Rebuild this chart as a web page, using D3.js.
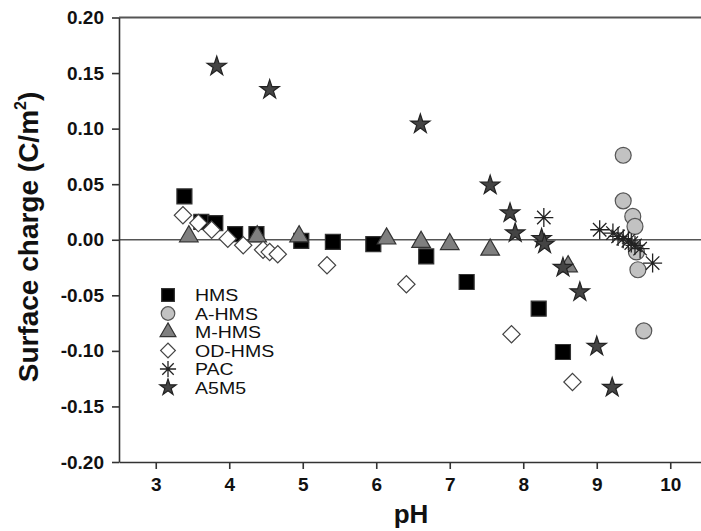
<!DOCTYPE html>
<html>
<head>
<meta charset="utf-8">
<script src="https://cdn.jsdelivr.net/npm/d3@7"></script>
<style>
  body { margin: 0; background: #fff; }
  svg { display: block; font-family: "Liberation Sans", Arial, sans-serif; }
</style>
</head>
<body>
<script>
// data
const seriesNames = ['HMS', 'A-HMS', 'M-HMS', 'OD-HMS', 'PAC', 'A5M5'];
const xTicks = [3, 4, 5, 6, 7, 8, 9, 10];
const yTicks = [-0.20, -0.15, -0.10, -0.05, 0.00, 0.05, 0.10, 0.15, 0.20];

const hmsPH     = [3.39, 3.62, 3.81, 4.08, 4.37, 4.98, 5.41, 5.96, 6.68, 7.23, 8.21, 8.54];
const hmsCharge = [0.039, 0.016, 0.015, 0.005, 0.005, -0.001, -0.002, -0.004, -0.015, -0.038, -0.062, -0.101];

const ahmsPH     = [9.36, 9.36, 9.49, 9.52, 9.54, 9.56, 9.64];
const ahmsCharge = [0.076, 0.035, 0.021, 0.012, -0.011, -0.027, -0.082];

const mhmsPH     = [3.45, 4.38, 4.95, 6.14, 6.61, 7.00, 7.55, 8.61];
const mhmsCharge = [0.003, 0.003, 0.003, 0.001, -0.002, -0.004, -0.009, -0.024];

const odPH     = [3.37, 3.58, 3.76, 3.98, 4.19, 4.46, 4.55, 4.66, 5.33, 6.41, 7.84, 8.67];
const odCharge = [0.022, 0.015, 0.009, 0.001, -0.005, -0.009, -0.011, -0.013, -0.023, -0.040, -0.085, -0.128];

const pacPH     = [8.28, 9.04, 9.22, 9.29, 9.36, 9.43, 9.47, 9.52, 9.59, 9.76];
const pacCharge = [0.020, 0.009, 0.006, 0.003, 0.001, -0.001, -0.003, -0.005, -0.008, -0.021];

const a5m5PH     = [3.83, 4.55, 6.60, 7.55, 7.82, 7.89, 8.25, 8.29, 8.54, 8.77, 9.00, 9.21];
const a5m5Charge = [0.156, 0.135, 0.104, 0.049, 0.024, 0.006, 0.001, -0.004, -0.025, -0.047, -0.096, -0.133];

const width = 701, height = 531;

const svg = d3.select('body').append('svg')
    .attr('width', width)
    .attr('height', height);

const x = d3.scaleLinear().domain([2.5, 10.5]).range([119, 707]);
const y = d3.scaleLinear().domain([-0.2, 0.2]).range([462, 17.5]);

// frame top and zero line
svg.append('line')
    .attr('x1', x(2.5)).attr('x2', x(10.5))
    .attr('y1', y(0.2)).attr('y2', y(0.2))
    .attr('stroke', '#555').attr('stroke-width', 2);
svg.append('line')
    .attr('x1', x(2.5)).attr('x2', x(10.5))
    .attr('y1', y(0)).attr('y2', y(0))
    .attr('stroke', '#555').attr('stroke-width', 1.6);

// axes
const fmtY = d => d3.format('.2f')(d).replace('\u2212', '-');
const xAxis = svg.append('g')
    .attr('transform', `translate(0,${y(-0.2)})`)
    .call(d3.axisBottom(x).tickValues(xTicks).tickSize(7).tickSizeOuter(0).tickPadding(9).tickFormat(d3.format('d')));
const yAxis = svg.append('g')
    .attr('transform', `translate(${x(2.5)},0)`)
    .call(d3.axisLeft(y).tickValues(yTicks).tickSize(7).tickSizeOuter(0).tickPadding(8).tickFormat(fmtY));

[xAxis, yAxis].forEach(g => {
    g.attr('font-family', null).attr('font-size', null);
    g.select('.domain').attr('stroke', '#333').attr('stroke-width', 1.6);
    g.selectAll('.tick line').attr('stroke', '#333').attr('stroke-width', 1.6);
    g.selectAll('.tick text')
        .attr('fill', '#111')
        .attr('font-size', 19)
        .attr('font-weight', 'bold');
});

// axis titles
svg.append('text')
    .attr('transform', 'translate(38,237) rotate(-90)')
    .attr('text-anchor', 'middle')
    .attr('font-size', 28)
    .attr('font-weight', 'bold')
    .attr('fill', '#111')
    .call(t => {
        t.append('tspan').text('Surface charge (C/m');
        t.append('tspan').text('2').attr('font-size', 16).attr('dy', -12);
        t.append('tspan').text(')').attr('dy', 12);
    });

svg.append('text')
    .attr('x', 411).attr('y', 523)
    .attr('text-anchor', 'middle')
    .attr('font-size', 26)
    .attr('font-weight', 'bold')
    .attr('fill', '#111')
    .text('pH');

// marker shapes
function asterisk(r) {
    const k = r * 0.7071;
    return `M${-r},0H${r}M0,${-r}V${r}M${-k},${-k}L${k},${k}M${-k},${k}L${k},${-k}`;
}

const styles = {
    'HMS':    { path: s => d3.symbol(d3.symbolSquare, 225 * s * s)(), fill: '#000', stroke: '#333', rot: 0 },
    'A-HMS':  { path: s => d3.symbol(d3.symbolCircle, 200 * s * s)(), fill: '#c2c2c2', stroke: '#555', rot: 0 },
    'M-HMS':  { path: s => d3.symbol(d3.symbolTriangle, 150 * s * s)(), fill: '#7f7f7f', stroke: '#333', rot: 0 },
    'OD-HMS': { path: s => d3.symbol(d3.symbolSquare, 150 * s * s)(), fill: '#fff', stroke: '#444', rot: 45 },
    'PAC':    { path: s => asterisk(9.5 * s), fill: 'none', stroke: '#222', rot: 0 },
    'A5M5':   { path: s => d3.symbol(d3.symbolStar, 115 * s * s)(), fill: '#444', stroke: '#222', rot: 0 }
};

const seriesData = [
    [hmsPH, hmsCharge],
    [ahmsPH, ahmsCharge],
    [mhmsPH, mhmsCharge],
    [odPH, odCharge],
    [pacPH, pacCharge],
    [a5m5PH, a5m5Charge]
];

seriesNames.forEach((name, i) => {
    const st = styles[name];
    const pts = seriesData[i][0].map((p, j) => ({ ph: p, q: seriesData[i][1][j] }));
    svg.append('g').selectAll('path')
        .data(pts)
        .enter()
        .append('path')
        .attr('d', st.path(1))
        .attr('transform', d => `translate(${x(d.ph)},${y(d.q)}) rotate(${st.rot})`)
        .attr('fill', st.fill)
        .attr('stroke', st.stroke)
        .attr('stroke-width', name === 'PAC' ? 1.3 : 1.2);
});

// legend
const legend = svg.append('g').attr('transform', 'translate(168,295)');
seriesNames.forEach((name, i) => {
    const st = styles[name];
    const row = legend.append('g').attr('transform', `translate(0,${i * 18.5})`);
    row.append('path')
        .attr('d', st.path(0.85))
        .attr('transform', `rotate(${st.rot})`)
        .attr('fill', st.fill)
        .attr('stroke', st.stroke)
        .attr('stroke-width', name === 'PAC' ? 1.3 : 1.2);
    const txt = row.append('text')
        .attr('x', 27).attr('y', 6)
        .attr('font-size', 16)
        .attr('fill', '#111')
        .text(name);
    // the original legend font is wider than the local one
    const w = txt.node().getComputedTextLength();
    txt.attr('textLength', w * 1.22).attr('lengthAdjust', 'spacingAndGlyphs');
});
</script>
</body>
</html>
